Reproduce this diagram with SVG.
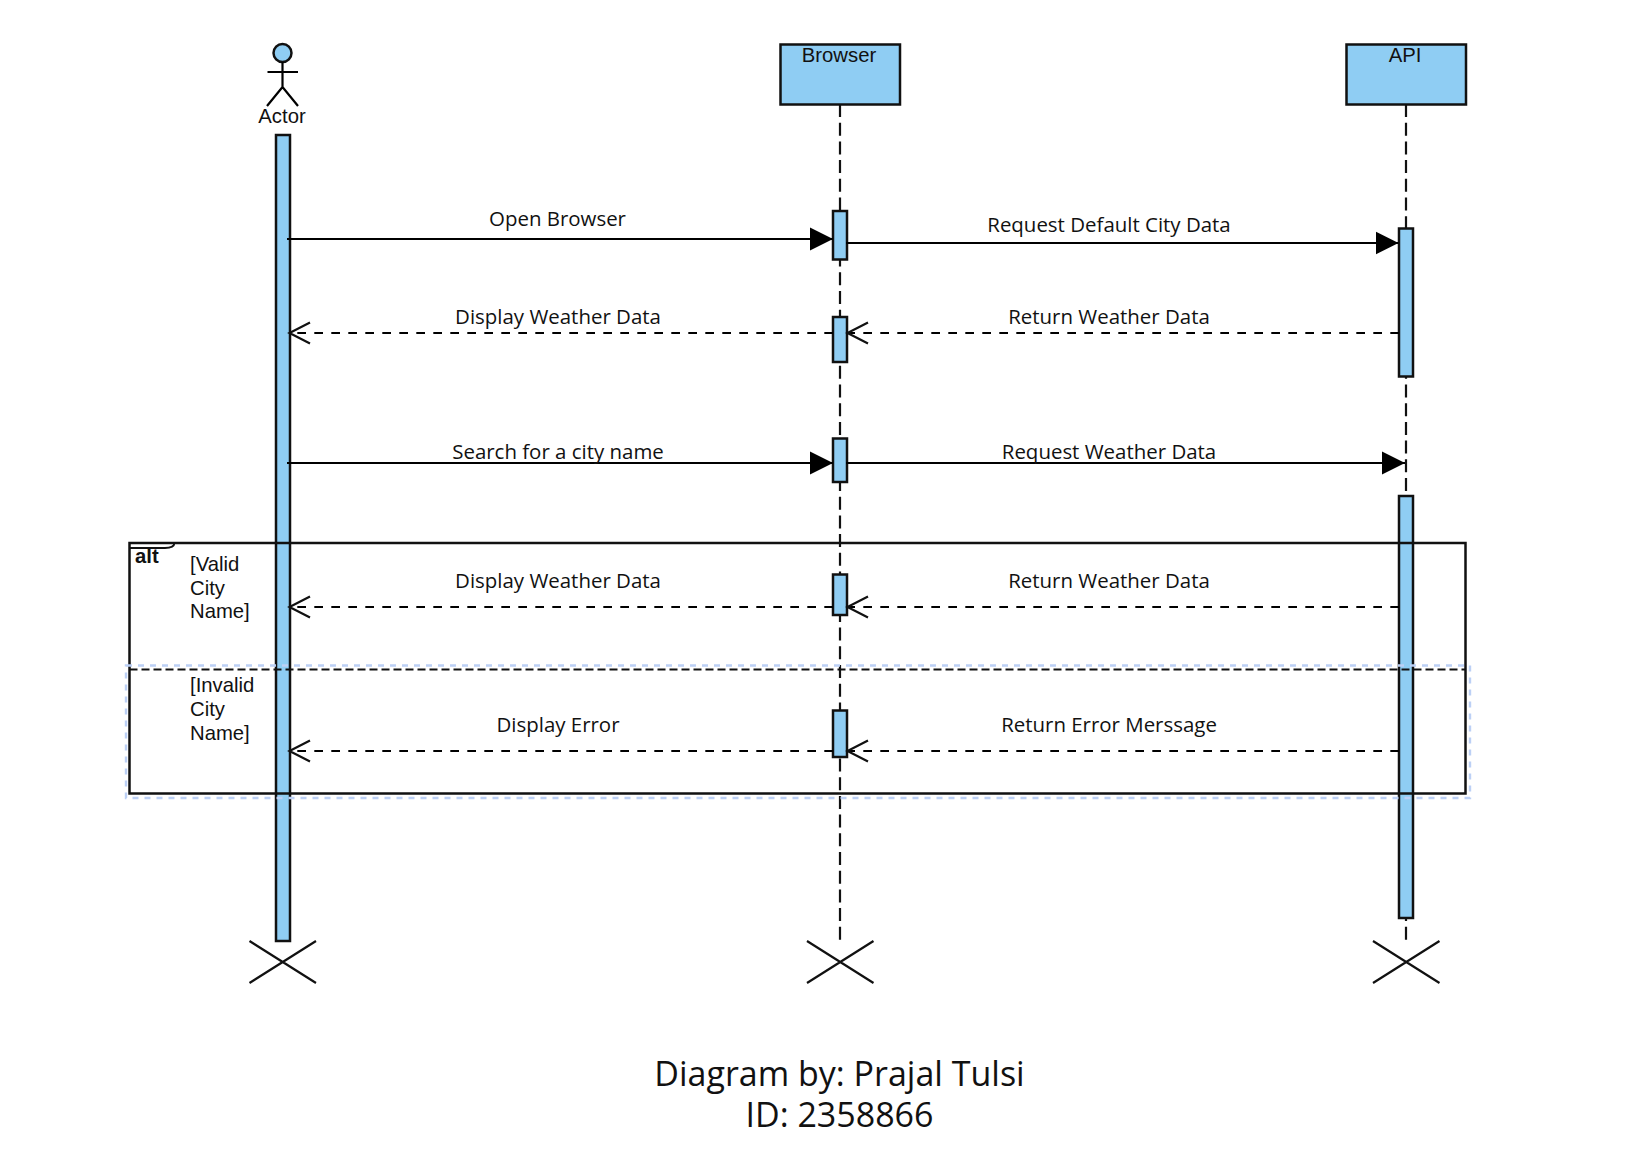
<svg xmlns="http://www.w3.org/2000/svg" width="1644" height="1158" viewBox="0 0 1644 1158">
<style>
.node{fill:#8fcdf3;stroke:#111;stroke-width:2.5}
.t{font-family:"Liberation Sans",Arial,sans-serif;font-size:20.3px;fill:#111}
.c{text-anchor:middle}
.m{font-family:"Open Sans",sans-serif;font-size:20.45px;fill:#111;text-anchor:middle}
.big{font-family:"Open Sans",sans-serif;font-size:34px;fill:#111;text-anchor:middle}
.ln{fill:none;stroke:#000;stroke-width:2.2}
.life{fill:none;stroke:#111;stroke-width:2.2;stroke-dasharray:13 5.7}
.ret{fill:none;stroke:#000;stroke-width:2.2;stroke-dasharray:8.7 8.3}
.open{fill:none;stroke:#111;stroke-width:2.2}
</style>
<defs>
<marker id="fill" markerUnits="userSpaceOnUse" markerWidth="24" markerHeight="24" refX="23" refY="12" orient="auto"><path d="M0 0.5L23 12L0 23.5Z" fill="#000"/></marker>
</defs>
<rect width="1644" height="1158" fill="#fff"/>
<g id="lifelines">
<path class="life" d="M840 104V940"/>
<path class="life" d="M1406 104V940"/>
</g>
<g id="actor">
<circle class="node" cx="282.5" cy="53" r="9"/>
<path class="ln" d="M282.5 62V87M267.5 72H298M267 106L282.5 87L298 106"/>
<text class="t c" x="282" y="123">Actor</text>
</g>
<g id="actor-bar"><rect class="node" x="276" y="135" width="14" height="806"/></g>
<g id="browser"><rect class="node" x="780.5" y="44.5" width="119.5" height="60"/><text class="t c" x="839" y="62">Browser</text></g>
<g id="api"><rect class="node" x="1346.5" y="44.5" width="119.5" height="60"/><text class="t c" x="1405" y="62">API</text></g>
<g id="browser-act-1"><rect class="node" x="833" y="211" width="14" height="48.5"/></g>
<g id="browser-act-2"><rect class="node" x="833" y="317" width="14" height="45"/></g>
<g id="browser-act-3"><rect class="node" x="833" y="438.5" width="14" height="43.5"/></g>
<g id="browser-act-4"><rect class="node" x="833" y="574.5" width="14" height="40.5"/></g>
<g id="browser-act-5"><rect class="node" x="833" y="710.5" width="14" height="46.5"/></g>
<g id="api-act-1"><rect class="node" x="1399" y="228.5" width="14" height="148"/></g>
<g id="api-act-2"><rect class="node" x="1399" y="496" width="14" height="422"/></g>
<g id="connectors">
<path class="ln" d="M287 239H833" marker-end="url(#fill)"/>
<path class="ln" d="M846 243H1398.500" marker-end="url(#fill)"/>
<path class="ln" d="M287 463H833" marker-end="url(#fill)"/>
<path class="ln" d="M846 463H1405" marker-end="url(#fill)"/>
<path class="ret" d="M833 333H290"/><path class="open" d="M310 322.500L289.500 333L310 343.500"/>
<path class="ret" d="M1399 333H848"/><path class="open" d="M868 322.500L847.500 333L868 343.500"/>
<path class="ret" d="M833 607H290"/><path class="open" d="M310 596.500L289.500 607L310 617.500"/>
<path class="ret" d="M1399 607H848"/><path class="open" d="M868 596.500L847.500 607L868 617.500"/>
<path class="ret" d="M833 751H290"/><path class="open" d="M310 740.500L289.500 751L310 761.500"/>
<path class="ret" d="M1399 751H848"/><path class="open" d="M868 740.500L847.500 751L868 761.500"/>
<text class="m" x="557.500" y="226">Open Browser</text>
<text class="m" x="1109" y="232">Request Default City Data</text>
<text class="m" x="558" y="324">Display Weather Data</text>
<text class="m" x="1109" y="324">Return Weather Data</text>
<text class="m" x="558" y="459">Search for a city name</text>
<text class="m" x="1109" y="459">Request Weather Data</text>
<text class="m" x="558" y="588">Display Weather Data</text>
<text class="m" x="1109" y="588">Return Weather Data</text>
<text class="m" x="558" y="732">Display Error</text>
<text class="m" x="1109" y="732">Return Error Merssage</text>
</g>
<g id="alt-frame">
<rect x="129.500" y="543" width="1336" height="250.500" fill="none" stroke="#111" stroke-width="2.500"/>
<path d="M129.500 548H165Q174 548 174.500 543" fill="none" stroke="#111" stroke-width="2"/>
<path d="M129.500 669.500H1465.500" fill="none" stroke="#111" stroke-width="2.200" stroke-dasharray="8 4"/>
<text class="t" x="135" y="563" font-weight="bold">alt</text>
<text class="t" x="190" y="571">[Valid</text>
<text class="t" x="190" y="594.500">City</text>
<text class="t" x="190" y="618">Name]</text>
<text class="t" x="190" y="692">[Invalid</text>
<text class="t" x="190" y="716">City</text>
<text class="t" x="190" y="740">Name]</text>
</g>
<g id="selection"><rect x="126" y="665.500" width="1344" height="132.500" fill="none" stroke="#bcd0f5" stroke-width="2.400" stroke-dasharray="6 6"/></g>
<g id="destroy-marks">
<path class="open" d="M249.500 941L316 983M316 941L249.500 983"/>
<path class="open" d="M807 941L873.500 983M873.500 941L807 983"/>
<path class="open" d="M1373 941L1439.500 983M1439.500 941L1373 983"/>
</g>
<g id="caption">
<text class="big" x="839.500" y="1086">Diagram by: Prajal Tulsi</text>
<text class="big" x="839.500" y="1127">ID: 2358866</text>
</g>
</svg>
